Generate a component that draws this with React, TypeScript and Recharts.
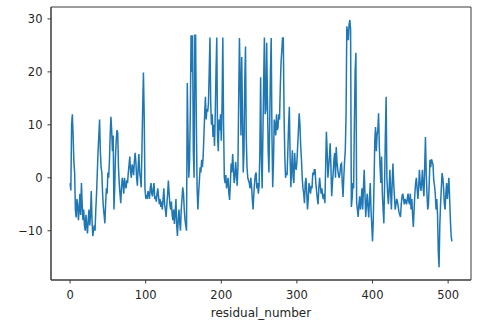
import React from 'react';
import { LineChart, Line, XAxis, YAxis, ReferenceArea } from 'recharts';

const residualValues: number[] = [
  -1, -2.4, 10, 12, 8, 3, 1, -6, -7.5, -4,
  -5, -8, -6, -3, -7, -1, -5, -8, -6, -9,
  -10, -7, -9, -10.5, -8, -6, -9, -7, -2.5, -8,
  -11, -10, -9, -10, -6, -3, 1, 5, 8, 11,
  5, 2, 1, -3, -5.5, -7, -8.6, -5, -2, -3,
  1, 0, 3, 8, 11.5, 9, 5, 8, -6, -2,
  4, 7, 9, 8.5, 2, -1, -3, -4.8, -2, 0,
  -1, -3, 0, -1.5, -2, -0.5, -1, 1, 2.5, 4,
  1, 0, 2.5, 2, 0.5, 3, 4.7, 3, 0, -1.5,
  2, 4.5, 1, 0, -1.8, 5, 13, 19.9, 12, -2,
  -3.7, -3.5, -4, -2.5, -3, -4, -2, -1, -3, -3.5,
  -2, -1, -4, -3.5, -4.5, -3, -2, -3.5, -5, -4,
  -5.5, -4.5, -6, -4, -2, -5, -6, -7.4, -5, -3,
  -0.5, -3, -5, -6, -4.5, -7, -8, -6, -8.7, -6.5,
  -4, -9, -11, -8, -6, -8.5, -10, -6, -4, -1.8,
  -3, -6, -8, -9, -10, 17.9, 8, 0, 3, 12,
  26.9, 20, 26.9, 5, 0, 26.9, 26.9, 10, -2, -6,
  -3, -0.5, 2, 1, 3.4, 2, 4, 8, 12, 15.3,
  11, 13, 12.5, 14, 20, 26.5, 14, 10, 12, 7.7,
  10, 6, 12, 20, 26.5, 8, 5, 11, 9, 12,
  7, 14, 26.5, 10, 0, -1, 0.5, -2, -1, 0,
  -3, -4.2, -1, 2.7, 1, 4.5, 2, -1, 0, 3,
  1, -1.5, 2, 15, 26.4, 18, 8, 22.8, 12, 1,
  5, 18, 24.8, 7.7, 2, 0, -0.5, -1, -2, 0,
  -1.5, -4, -6, -3, -1, 0.5, 1, -2, -1, -3,
  -1.5, 5, 19, 4, -2, 8, 18, 26.5, 12, 12.8,
  25.5, 15, 5, 1, 10, 20, 26.4, 8, -1.8, 3,
  11, 10, 8, 12, 9, 9.5, 12, 11, 17, 21.7,
  24, 26.4, 26.4, 12, 4, 0, 1, 0.5, 5, 10,
  13.4, 4, -1.8, 2, 5.2, 0, -1, 4.7, 2, 1.5,
  3, 6, 9, 12.2, 10, 6, 3.5, 0, -2, -3,
  -4.8, -1, 0, -3, -6, -4, -1, -2, -3, -1.5,
  -2, 1, 0.5, 1.5, 1.5, -1, -2.5, -4, -5, -2,
  0, -1.5, -3, -2, -3.5, -4, -3, -4.8, 2, 8.7,
  5, 0, 2, 4, 6.5, 2, -3.5, -1, 1, 3.5,
  4.7, 0, 5.8, 3, 1.5, 0.5, 0, 1, 2.5, 2.7,
  -1, -3.6, 0, 3, 5.2, 12, 28.6, 27.5, 26, 29,
  29.8, 28, -5.5, -4, -1, -2, 10, 20, 23.6, -4.8,
  -6, -7.4, -5, -3.5, -6, -4.5, -2, -6, -2, 1.5,
  -3, -7.4, -5, -3, -5.5, -7.5, -4, -1, -6, -9,
  -12, -8, -1, 7, 9.6, 5, 8, 9, 12.2, 6,
  2, -1, 4, -3, -6, -8.6, -1, 8, 15.3, 0,
  -3, -5, -2, 1.5, -3, -6, -1, 2.7, -1, -3.5,
  -6, -5, -4, -4.5, -5.5, -6.5, -7, -7.4, -5, -3.5,
  -3, -4, -5, -4, -4.5, -5, -4, -3, -4.5, -5,
  -3, -6, -4, -7, -9.3, -6, -3, -1, 0, -2,
  -4, -2, 1.5, -1, -2.5, -1, 1.5, -2, -3.5, 2,
  7.7, 1, -3, -6, -5, -1, 3.4, 2, 3.5, 3,
  2.5, -0.5, -1.5, -3, -6, -4, -7, -14, -16.9, -9,
  -5, -2, 0.9, 0, -2, -5, -6, -3, -1, -4,
  -2, 0, -4, -8, -11, -12,
];

const xTicks: number[] = [0, 100, 200, 300, 400, 500];
const yTicks: number[] = [-10, 0, 10, 20, 30];
const xLabel = 'residual_number';

const xDomain: [number, number] = [-25.25, 530.25];
const yDomain: [number, number] = [-19.3, 32.25];

const data = residualValues.map((v, i) => ({ residual_number: i, value: v }));

const fmt = (v: number) => String(v).replace('-', '\u2212');

const tickStyle = { fill: '#262626', fontSize: 11.5, fontFamily: 'DejaVu Sans' };
const axisColor = '#3a3a3a';

export default function App() {
  return (
    <div style={{ position: 'absolute', left: 0, top: 0, width: 485, height: 331, background: '#fff' }}>
      <LineChart width={485} height={331} data={data} margin={{ top: 7, right: 14, bottom: 0, left: 0 }}>
        <XAxis
          xAxisId="b"
          dataKey="residual_number"
          type="number"
          domain={xDomain}
          allowDataOverflow
          ticks={xTicks}
          tickFormatter={fmt}
          height={51}
          tickSize={3.5}
          tickMargin={7.5}
          stroke={axisColor}
          tick={tickStyle}
          label={{ value: xLabel, position: 'insideBottom', offset: 14, fill: '#262626', fontSize: 12, fontFamily: 'DejaVu Sans' }}
        />
        <YAxis
          yAxisId="l"
          type="number"
          domain={yDomain}
          allowDataOverflow
          ticks={yTicks}
          tickFormatter={fmt}
          width={51}
          tickSize={3.5}
          tickMargin={5}
          stroke={axisColor}
          tick={tickStyle}
        />
        <ReferenceArea
          xAxisId="b"
          yAxisId="l"
          x1={xDomain[0]}
          x2={xDomain[1]}
          y1={yDomain[0]}
          y2={yDomain[1]}
          fill="none"
          fillOpacity={0}
          stroke={axisColor}
          strokeWidth={1}
          ifOverflow="visible"
        />
        <Line
          xAxisId="b"
          yAxisId="l"
          type="linear"
          dataKey="value"
          stroke="#1f77b4"
          strokeWidth={1.5}
          dot={false}
          isAnimationActive={false}
        />
      </LineChart>
    </div>
  );
}
